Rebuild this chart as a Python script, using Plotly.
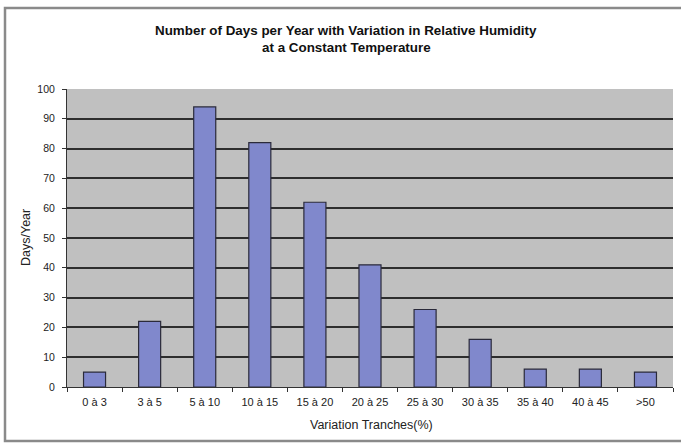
import plotly.graph_objects as go

# Relative-humidity variation bands and days per year in each band
tranches = ["0 à 3", "3 à 5", "5 à 10", "10 à 15", "15 à 20", "20 à 25",
            "25 à 30", "30 à 35", "35 à 40", "40 à 45", ">50"]
days_per_year = [5, 22, 94, 82, 62, 41, 26, 16, 6, 6, 5]
y_ticks = list(range(0, 101, 10))
title_lines = ["Number of Days per Year with Variation in Relative Humidity",
               "at a Constant Temperature"]
x_title = "Variation Tranches(%)"
y_title = "Days/Year"

W, H = 681, 444
M_L, M_R, M_T, M_B = 67, 8, 89, 57
pw, ph = W - M_L - M_R, H - M_T - M_B


def px_x(x):
    return (x - M_L) / pw


def px_y(y):
    return (H - M_B - y) / ph


fig = go.Figure(
    go.Bar(
        x=tranches,
        y=days_per_year,
        width=0.4,
        marker=dict(color="#8088cc", line=dict(color="#2a2a3a", width=1.2)),
    )
)

text_font = "Liberation Sans, Arial, sans-serif"

annotations = [
    dict(text="<b>%s</b>" % line, xref="paper", yref="paper",
         x=px_x(346), y=px_y(yc), xanchor="center", yanchor="middle",
         showarrow=False, font=dict(size=13.4, color="#111"))
    for line, yc in zip(title_lines, [31, 48])
]
annotations += [
    dict(text=x_title, xref="paper", yref="paper",
         x=px_x(371), y=px_y(425), xanchor="center", yanchor="middle",
         showarrow=False, font=dict(size=12.5, color="#222")),
    dict(text=y_title, xref="paper", yref="paper", textangle=-90,
         x=px_x(26), y=px_y(238), xanchor="center", yanchor="middle",
         showarrow=False, font=dict(size=12.5, color="#222")),
]

fig.update_layout(
    width=W,
    height=H,
    margin=dict(l=M_L, r=M_R, t=M_T, b=M_B),
    paper_bgcolor="white",
    plot_bgcolor="#c0c0c0",
    showlegend=False,
    font=dict(family=text_font, color="#111", size=11),
    xaxis=dict(
        type="category",
        showgrid=False,
        showline=True, linecolor="#333", linewidth=1,
        ticks="outside", ticklen=4, tickcolor="#333",
        tickson="boundaries",
        tickfont=dict(size=11, color="#222"),
        ticklabelstandoff=5,
        range=[-0.5, len(tranches) - 0.5],
    ),
    yaxis=dict(
        range=[0, 100],
        tickvals=y_ticks,
        showgrid=True, gridcolor="#2e2e2e", gridwidth=1.7,
        showline=True, linecolor="#333", linewidth=1,
        ticks="outside", ticklen=4, tickcolor="#333",
        tickfont=dict(size=10.5, color="#222"),
        ticklabelstandoff=5,
        zeroline=False,
    ),
    annotations=annotations,
    shapes=[
        # Frame around the whole chart
        dict(type="rect", xref="paper", yref="paper", layer="below",
             x0=px_x(5), x1=px_x(686), y0=px_y(441), y1=px_y(8),
             line=dict(color="#8a8a8a", width=2.5), fillcolor="rgba(0,0,0,0)"),
    ],
)

fig.write_html("out.html")
